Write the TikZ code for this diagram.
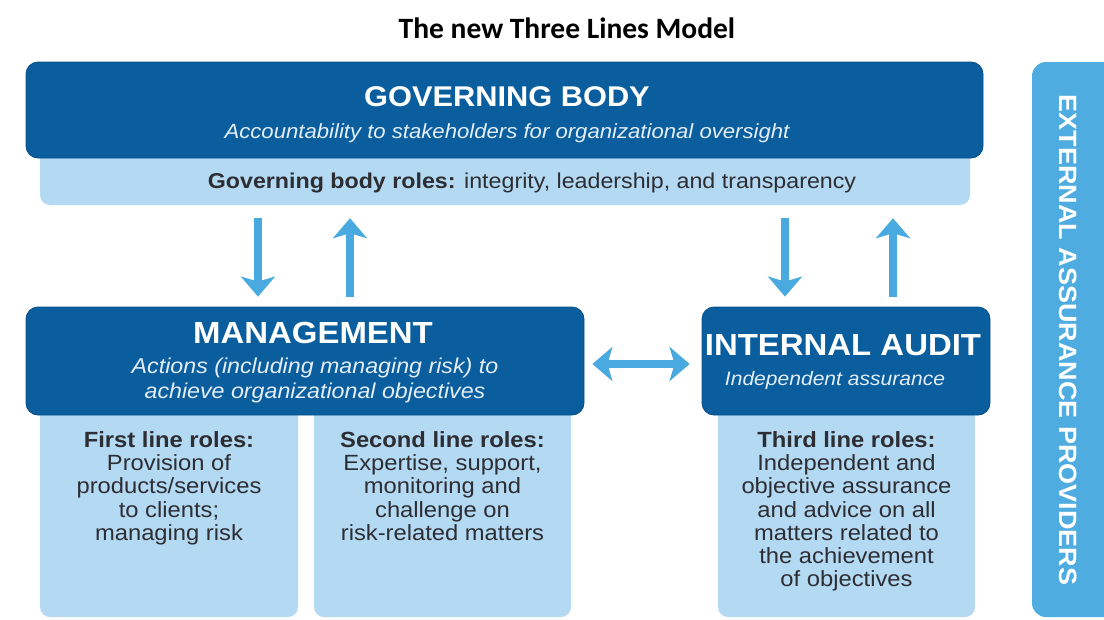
\documentclass[tikz,border=0pt]{standalone}
\usepackage{fontspec}
\setmainfont{Liberation Sans}[FakeStretch=1.08]
\newfontfamily\titlefont{Carlito}
\usetikzlibrary{arrows.meta}

\definecolor{dkblue}{RGB}{10,94,158}
\definecolor{dkedge}{RGB}{6,78,135}
\definecolor{ltblue}{RGB}{180,217,242}
\definecolor{arblue}{RGB}{72,170,222}
\definecolor{exblue}{RGB}{78,172,224}
\definecolor{txtgray}{RGB}{45,45,52}
\definecolor{subwhite}{RGB}{228,238,248}

\begin{document}
\begin{tikzpicture}[x=1pt,y=-1pt,
  darkbox/.style={fill=dkblue, draw=dkedge, line width=0.8pt, rounded corners=12pt, inner sep=0pt},
  lightbox/.style={fill=ltblue, rounded corners=10pt, inner sep=0pt},
  extbox/.style={fill=exblue, rounded corners=14pt, inner sep=0pt},
  headtext/.style={text=white, font=\fontsize{28.5}{30}\selectfont\bfseries, inner sep=0pt},
  subtext/.style={text=subwhite, font=\fontsize{20.5}{25}\selectfont\itshape, align=center, inner sep=0pt},
  roletext/.style={text=txtgray, font=\fontsize{22}{23.3}\selectfont, align=center, anchor=north, inner sep=0pt},
  arr/.style={draw=arblue, line width=8pt, -{Stealth[length=20pt,width=34pt,inset=5pt]}},
  darr/.style={draw=arblue, line width=8pt, {Stealth[length=20pt,width=34pt,inset=5pt]}-{Stealth[length=20pt,width=34pt,inset=5pt]}}
]
\useasboundingbox (0,0) rectangle (1104,619);
\clip (0,0) rectangle (1104,619);

% title
\node[font=\titlefont\fontsize{29.5}{32}\selectfont\bfseries, inner sep=0pt] (title) at (567,28) {The new Three Lines Model};

% external assurance providers bar
\node[extbox, minimum width=92pt, minimum height=555pt] (ext) at (1078,339.5) {};
\node[rotate=-90, text=white, font=\fontsize{25}{28}\selectfont\bfseries, inner sep=0pt] (exttext) at (1068,340) {EXTERNAL ASSURANCE PROVIDERS};

% governing body
\node[lightbox, minimum width=930pt, minimum height=75pt] (strip) at (505,167.5) {};
\node[darkbox, minimum width=957pt, minimum height=96pt] (gb) at (504.5,110) {};
\node[headtext] (gbhead) at (507,97) {GOVERNING BODY};
\node[subtext] (gbsub) at (507,133) {Accountability to stakeholders for organizational oversight};
\node[text=txtgray, font=\fontsize{21.5}{24}\selectfont, inner sep=0pt] (gbroles) at (532,183) {\textbf{Governing body roles:} integrity, leadership, and transparency};

% role boxes
\node[lightbox, minimum width=258pt, minimum height=222pt] (l1) at (169,506) {};
\node[lightbox, minimum width=257pt, minimum height=222pt] (l2) at (442.5,506) {};
\node[lightbox, minimum width=257pt, minimum height=222pt] (l3) at (846.5,506) {};

% management and internal audit
\node[darkbox, minimum width=558pt, minimum height=108pt] (mgmt) at (305,361) {};
\node[headtext, font=\fontsize{30.5}{32}\selectfont\bfseries] (mgmthead) at (313,333) {MANAGEMENT};
\node[subtext, font=\fontsize{21.5}{25}\selectfont\itshape] (mgmtsub) at (315,380) {Actions (including managing risk) to\\achieve organizational objectives};

\node[darkbox, minimum width=288pt, minimum height=108pt] (ia) at (846,361) {};
\node[headtext, font=\fontsize{30.5}{32}\selectfont\bfseries] (iahead) at (843,345) {INTERNAL AUDIT};
\node[subtext, font=\fontsize{19.5}{25}\selectfont\itshape] (iasub) at (835,380) {Independent assurance};

% role texts
\node[roletext] (r1) at (169,431) {\textbf{First line roles:}\\Provision of\\products/services\\to clients;\\managing risk};
\node[roletext] (r2) at (442.5,431) {\textbf{Second line roles:}\\Expertise, support,\\monitoring and\\challenge on\\risk-related matters};
\node[roletext] (r3) at (846.5,431) {\textbf{Third line roles:}\\Independent and\\objective assurance\\and advice on all\\matters related to\\the achievement\\of objectives};

% arrows
\coordinate (xa) at (258,0);
\coordinate (xb) at (350,0);
\coordinate (xc) at (785,0);
\coordinate (xd) at (893,0);
\draw[arr, shorten <=13pt, shorten >=10pt] (strip.south -| xa) -- (mgmt.north -| xa);
\draw[arr, shorten <=10pt, shorten >=13pt] (mgmt.north -| xb) -- (strip.south -| xb);
\draw[arr, shorten <=13pt, shorten >=10pt] (strip.south -| xc) -- (ia.north -| xc);
\draw[arr, shorten <=10pt, shorten >=13pt] (ia.north -| xd) -- (strip.south -| xd);
\coordinate (ya) at (0,364);
\draw[darr, shorten <=8pt, shorten >=12pt] (mgmt.east |- ya) -- (ia.west |- ya);
\end{tikzpicture}
\end{document}
